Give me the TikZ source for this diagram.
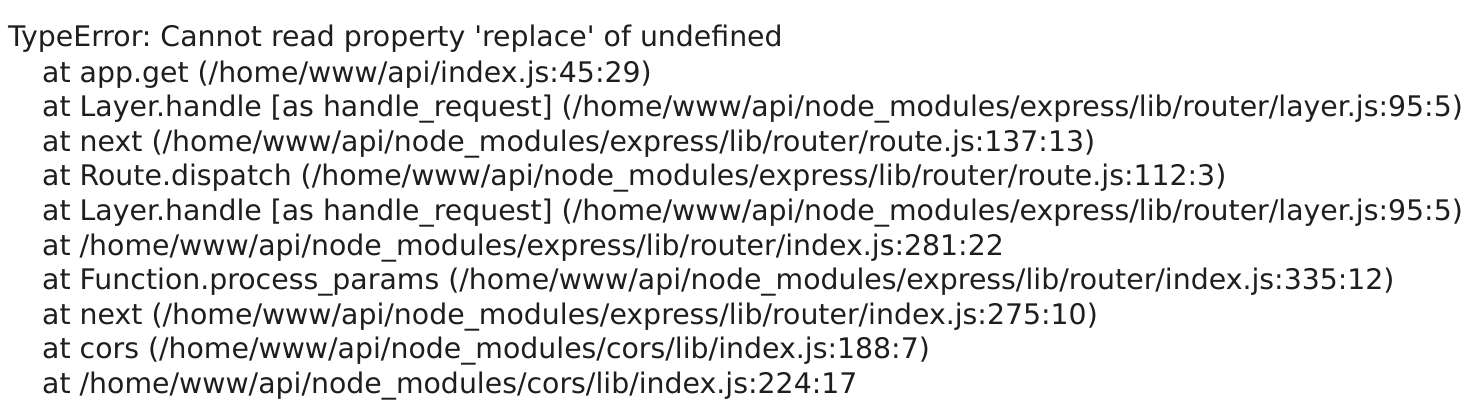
\documentclass[tikz,border=0pt]{standalone}
\usepackage{fontspec}
\setmainfont{DejaVu Sans}
\usepackage{xcolor}
\usetikzlibrary{positioning}

\definecolor{tracegray}{HTML}{1E1E1E}
\tikzset{
	traceline/.style={anchor=base west, inner sep=0pt, text=tracegray,
		font=\fontsize{28.35}{34.6}\selectfont\frenchspacing},
}

\begin{document}
\begin{tikzpicture}[x=1pt,y=-1pt]
	\useasboundingbox[fill=white] (0,0) rectangle (1470,404);
	\node[traceline] (err) at (8,47) {TypeError: Cannot read property \textquotesingle replace\textquotesingle\ of undefined};
	\node[traceline] (t1) at (42,82) {at app.get (/home/www/api/index.js:45:29)};
	\node[traceline] (t2) at (42,116.6) {at Layer.handle [as handle\_request] (/home/www/api/node\_modules/express/lib/router/layer.js:95:5)};
	\node[traceline] (t3) at (42,151.2) {at next (/home/www/api/node\_modules/express/lib/router/route.js:137:13)};
	\node[traceline] (t4) at (42,185.8) {at Route.dispatch (/home/www/api/node\_modules/express/lib/router/route.js:112:3)};
	\node[traceline] (t5) at (42,220.4) {at Layer.handle [as handle\_request] (/home/www/api/node\_modules/express/lib/router/layer.js:95:5)};
	\node[traceline] (t6) at (42,255) {at /home/www/api/node\_modules/express/lib/router/index.js:281:22};
	\node[traceline] (t7) at (42,289.6) {at Function.process\_params (/home/www/api/node\_modules/express/lib/router/index.js:335:12)};
	\node[traceline] (t8) at (42,324.2) {at next (/home/www/api/node\_modules/express/lib/router/index.js:275:10)};
	\node[traceline] (t9) at (42,358.8) {at cors (/home/www/api/node\_modules/cors/lib/index.js:188:7)};
	\node[traceline] (t10) at (42,393.4) {at /home/www/api/node\_modules/cors/lib/index.js:224:17};
\end{tikzpicture}
\end{document}
